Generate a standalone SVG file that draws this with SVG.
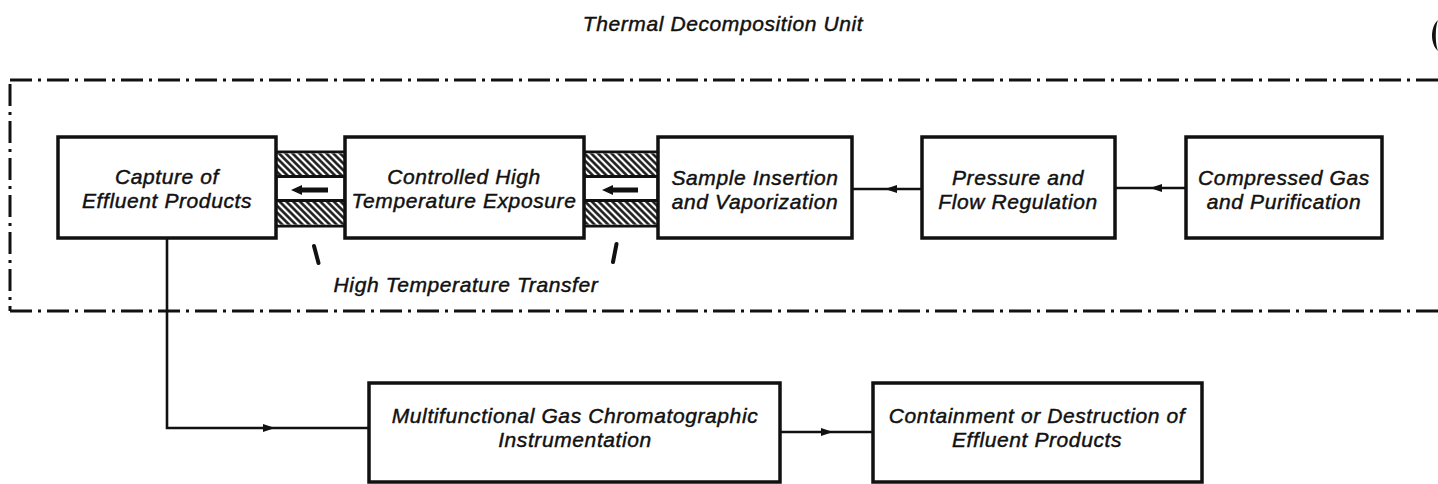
<svg xmlns="http://www.w3.org/2000/svg" width="1438" height="484" viewBox="0 0 1438 484">
<style>
.lbl{font-family:"Liberation Sans",Arial,Helvetica,sans-serif;font-style:italic;font-size:21px;letter-spacing:0.6px;fill:#111;stroke:#111;stroke-width:0.45px;text-anchor:middle}
.box{fill:#fff;stroke:#111;stroke-width:3.5}
.bound{fill:none;stroke:#111;stroke-width:3;stroke-dasharray:22 6 3 6}
.conn{fill:none;stroke:#111;stroke-width:2.6}
.tick{fill:none;stroke:#111;stroke-width:4;stroke-linecap:round}
.frame{fill:#fff;stroke:#111;stroke-width:3}
.hline{stroke:#111;stroke-width:3}
</style>
<defs>
<pattern id="hatch" patternUnits="userSpaceOnUse" width="4.8" height="4.8" patternTransform="rotate(45)">
<rect width="4.8" height="4.8" fill="#fff"/>
<line x1="0" y1="2.4" x2="4.8" y2="2.4" stroke="#111" stroke-width="2.5"/>
</pattern>
<marker id="ah" markerUnits="userSpaceOnUse" markerWidth="14" markerHeight="9" refX="12" refY="4.5" orient="auto">
<path d="M0,0.5 L12,4.5 L0,8.5 Z" fill="#111"/>
</marker>
</defs>
<rect width="1438" height="484" fill="#fff"/>

<g id="boundary">
<path class="bound" d="M10,80 L1438,80"/>
<path class="bound" d="M10,84 L10,311"/>
<path class="bound" d="M10,311 L1438,311"/>
</g>

<text class="lbl" x="723" y="31">Thermal Decomposition Unit</text>
<path d="M1438,20 C1430,27 1430,44 1438,51 C1435,44 1435,27 1438,20 Z" fill="#111"/>

<g id="transfer-1">
<rect class="frame" x="276" y="152" width="69" height="74"/>
<rect x="276" y="153.5" width="69" height="22" fill="url(#hatch)"/>
<rect x="276" y="201.5" width="69" height="23" fill="url(#hatch)"/>
<line class="hline" x1="276" y1="176.5" x2="345" y2="176.5"/>
<line class="hline" x1="276" y1="200.5" x2="345" y2="200.5"/>
<path d="M291,190 L302,185 L302,187.5 L328,187.5 L328,192.5 L302,192.5 L302,195 Z" fill="#111"/>
</g>
<g id="transfer-2">
<rect class="frame" x="584" y="152" width="74" height="74"/>
<rect x="584" y="153.5" width="74" height="22" fill="url(#hatch)"/>
<rect x="584" y="201.5" width="74" height="23" fill="url(#hatch)"/>
<line class="hline" x1="584" y1="176.5" x2="658" y2="176.5"/>
<line class="hline" x1="584" y1="200.5" x2="658" y2="200.5"/>
<path d="M602,190 L613,185 L613,187.5 L638,187.5 L638,192.5 L613,192.5 L613,195 Z" fill="#111"/>
</g>

<g id="capture">
<rect class="box" x="58" y="137" width="218" height="101"/>
<text class="lbl" x="167" y="184">Capture of</text>
<text class="lbl" x="167" y="208">Effluent Products</text>
</g>
<g id="controlled">
<rect class="box" x="345" y="137" width="239" height="101"/>
<text class="lbl" x="464" y="184">Controlled High</text>
<text class="lbl" x="464" y="208">Temperature Exposure</text>
</g>
<g id="sample">
<rect class="box" x="658" y="137" width="194" height="101"/>
<text class="lbl" x="755" y="185">Sample Insertion</text>
<text class="lbl" x="755" y="209">and Vaporization</text>
</g>
<g id="pressure">
<rect class="box" x="922" y="137" width="193" height="101"/>
<text class="lbl" x="1018" y="185">Pressure and</text>
<text class="lbl" x="1018" y="209">Flow Regulation</text>
</g>
<g id="compressed">
<rect class="box" x="1186" y="137" width="196" height="101"/>
<text class="lbl" x="1284" y="185">Compressed Gas</text>
<text class="lbl" x="1284" y="209">and Purification</text>
</g>
<g id="chromatograph">
<rect class="box" x="369" y="383" width="411" height="99"/>
<text class="lbl" x="575" y="423">Multifunctional Gas Chromatographic</text>
<text class="lbl" x="575" y="447">Instrumentation</text>
</g>
<g id="containment">
<rect class="box" x="873" y="383" width="329" height="99"/>
<text class="lbl" x="1037" y="423">Containment or Destruction of</text>
<text class="lbl" x="1037" y="447">Effluent Products</text>
</g>

<g id="transfer-label">
<path class="tick" d="M314,246 L318.5,263"/>
<path class="tick" d="M616.5,244 L613,262"/>
<text class="lbl" x="466" y="292">High Temperature Transfer</text>
</g>

<g id="connectors">
<path class="conn" stroke-width="3" d="M1186,188 L1150,188" marker-end="url(#ah)"/>
<path class="conn" stroke-width="3" d="M1150,188 L1115,188"/>
<path class="conn" stroke-width="3" d="M922,189 L885,189" marker-end="url(#ah)"/>
<path class="conn" stroke-width="3" d="M885,189 L852,189"/>
<path class="conn" stroke-width="2.2" d="M167,238 L167,428 L275,428" marker-end="url(#ah)"/>
<path class="conn" d="M275,428 L369,428"/>
<path class="conn" stroke-width="3" d="M780,432 L833,432" marker-end="url(#ah)"/>
<path class="conn" stroke-width="3" d="M833,432 L873,432"/>
</g>
</svg>
